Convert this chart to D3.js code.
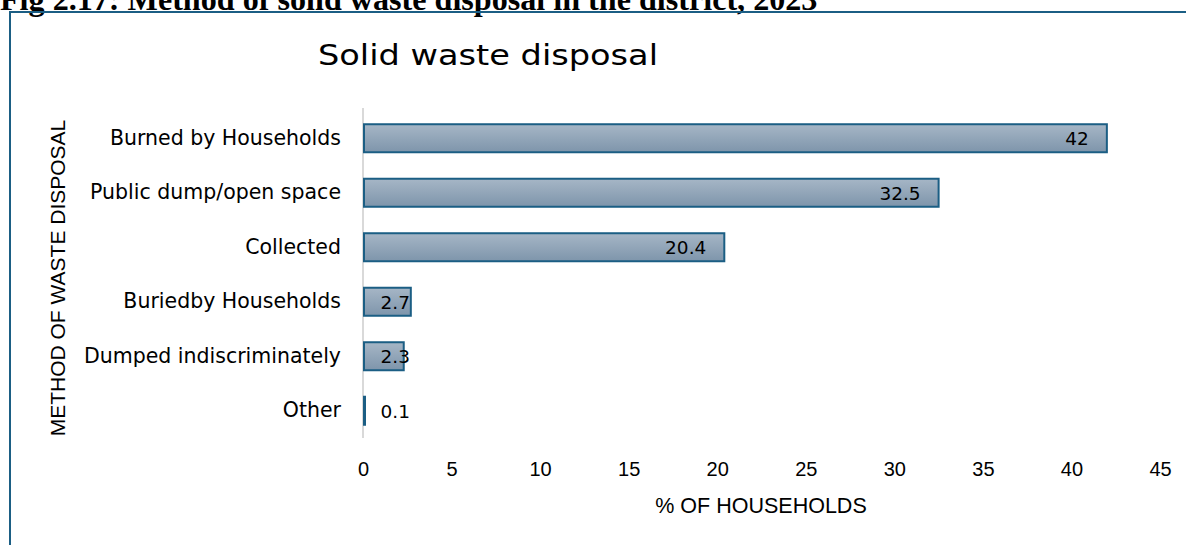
<!DOCTYPE html>
<html>
<head>
<meta charset="utf-8">
<script src="https://cdn.jsdelivr.net/npm/d3@7"></script>
<style>
  body { margin: 0; background: #fff; overflow: hidden; }
  svg { display: block; }
</style>
</head>
<body>
<div id="vis"></div>
<script>
// data
const methods = ['Burned by Households', 'Public dump/open space', 'Collected', 'Buriedby Households', 'Dumped indiscriminately', 'Other']
const shares = [42, 32.5, 20.4, 2.7, 2.3, 0.1]
const ticks = [0, 5, 10, 15, 20, 25, 30, 35, 40, 45]

const W = 1186, H = 545
const border = '#1b5e84'
const wideFont = 'DejaVu Sans, Verdana, sans-serif'
const plainFont = 'Liberation Sans, Arial, sans-serif'

let svg = d3.select('#vis').append('svg')
  .attr('width', W)
  .attr('height', H)

// bar gradient
let grad = svg.append('defs').append('linearGradient')
  .attr('id', 'barFill')
  .attr('x1', 0).attr('y1', 0).attr('x2', 0).attr('y2', 1)
grad.append('stop').attr('offset', '0%').attr('stop-color', '#a6b6c6')
grad.append('stop').attr('offset', '100%').attr('stop-color', '#7e95ab')

// page heading, cut at the top of the frame
let heading = svg.append('text')
  .attr('x', 0)
  .attr('y', 10)
  .attr('font-family', 'Liberation Serif, Times New Roman, serif')
  .attr('font-weight', 700)
  .attr('font-size', 24)
  .attr('fill', '#000')
  .text('Fig 2.17: Method of solid waste disposal in the district, 2023')
let hw = heading.node().getComputedTextLength()
heading.attr('font-size', 24 * 818 / hw)

// frame
svg.append('line')
  .attr('x1', 9).attr('x2', W).attr('y1', 12).attr('y2', 12)
  .attr('stroke', border).attr('stroke-width', 2)
svg.append('line')
  .attr('x1', 10).attr('x2', 10).attr('y1', 11).attr('y2', H)
  .attr('stroke', border).attr('stroke-width', 2)

// scales
let x = d3.scaleLinear([0, 45], [363, 1160])
let y = d3.scaleBand(methods, [111, 438]).paddingInner(0.486).paddingOuter(0.243)

// title
svg.append('text')
  .attr('x', 488)
  .attr('y', 65)
  .attr('text-anchor', 'middle')
  .attr('font-family', wideFont)
  .attr('font-size', 28)
  .attr('textLength', 340)
  .attr('lengthAdjust', 'spacingAndGlyphs')
  .attr('fill', '#000')
  .text('Solid waste disposal')

// vertical axis line at 0
svg.append('line')
  .attr('x1', x(0)).attr('x2', x(0))
  .attr('y1', 108).attr('y2', 438)
  .attr('stroke', '#d9d9d9').attr('stroke-width', 2)

// bars
svg.selectAll('.bar')
  .data(methods)
  .enter()
  .append('rect')
  .attr('class', 'bar')
  .attr('x', x(0) + 1)
  .attr('y', d => y(d))
  .attr('width', (d, i) => Math.max(x(shares[i]) - x(0) - 1, 1))
  .attr('height', y.bandwidth())
  .attr('fill', 'url(#barFill)')
  .attr('stroke', border)
  .attr('stroke-width', 2)

// value labels, inside end
svg.selectAll('.val')
  .data(methods)
  .enter()
  .append('text')
  .attr('class', 'val')
  .attr('x', (d, i) => Math.max(x(shares[i]) - 18, x(0) + 47))
  .attr('y', d => y(d) + y.bandwidth() / 2 + 7)
  .attr('text-anchor', 'end')
  .attr('font-family', wideFont)
  .attr('font-size', 18.5)
  .attr('fill', '#000')
  .text((d, i) => shares[i])

// y axis (category labels)
let yAxis = d3.axisLeft(y).tickSize(0).tickPadding(22)
let gy = svg.append('g')
  .attr('transform', `translate(${x(0)},0)`)
  .call(yAxis)
gy.select('.domain').remove()
gy.selectAll('text')
  .attr('dy', null)
  .attr('y', 6.5)
  .attr('font-family', wideFont)
  .attr('font-size', 20.5)
  .attr('fill', '#000')

// x axis (tick labels only)
let xAxis = d3.axisBottom(x).tickValues(ticks).tickSize(0).tickPadding(0)
let gx = svg.append('g')
  .attr('transform', 'translate(0,476)')
  .call(xAxis)
gx.select('.domain').remove()
gx.selectAll('text')
  .attr('dy', null)
  .attr('y', 0)
  .attr('font-family', plainFont)
  .attr('font-size', 20)
  .attr('fill', '#000')

// axis titles
svg.append('text')
  .attr('x', 761)
  .attr('y', 513)
  .attr('text-anchor', 'middle')
  .attr('font-family', plainFont)
  .attr('font-size', 21.5)
  .attr('fill', '#000')
  .text('% OF HOUSEHOLDS')

svg.append('text')
  .attr('transform', 'translate(65,278) rotate(-90)')
  .attr('text-anchor', 'middle')
  .attr('font-family', plainFont)
  .attr('font-size', 21)
  .attr('fill', '#000')
  .text('METHOD OF WASTE DISPOSAL')
</script>
</body>
</html>
